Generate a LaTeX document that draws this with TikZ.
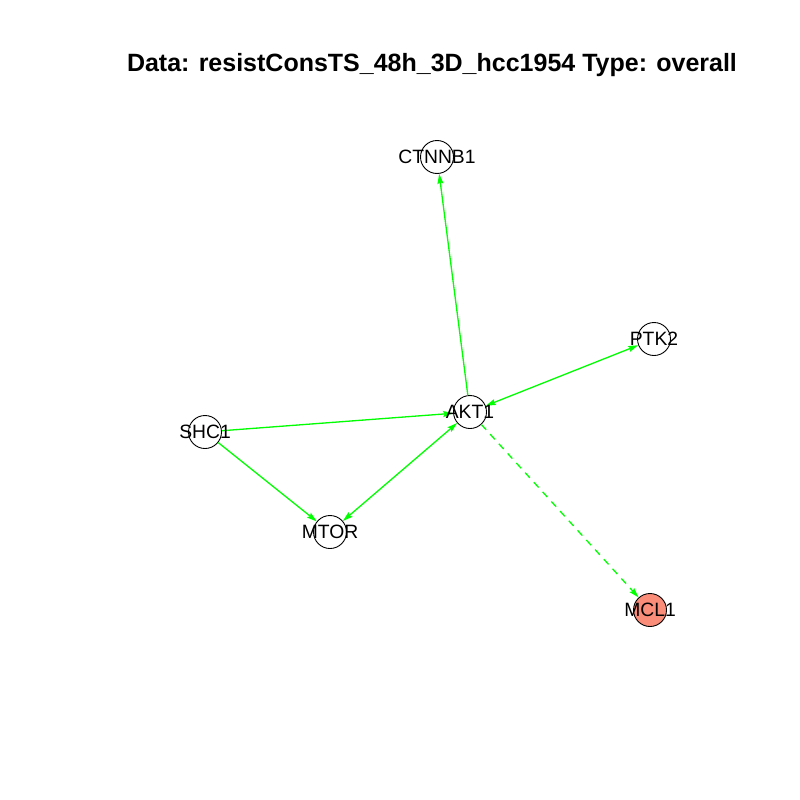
\documentclass[tikz,border=0pt]{standalone}
\usepackage{fontspec}
\setmainfont{Liberation Sans}
\usetikzlibrary{arrows.meta}
\definecolor{edgegreen}{RGB}{0,255,0}
\definecolor{salmon}{RGB}{250,140,122}
\tikzset{
  vtx/.style={circle,draw=black,line width=0.9pt,fill=white,minimum size=33pt,inner sep=0pt},
  vlabel/.style={font=\fontsize{19.3}{19.3}\selectfont,inner sep=0pt},
  edge/.style={draw=edgegreen,line width=1.3pt,-{Stealth[length=10pt,width=6pt,inset=1.5pt]}},
  biedge/.style={draw=edgegreen,line width=1.3pt,{Stealth[length=10pt,width=6pt,inset=1.5pt]}-{Stealth[length=10pt,width=6pt,inset=1.5pt]}},
}
\begin{document}
\begin{tikzpicture}[x=1pt,y=-1pt]
\useasboundingbox (0,0) rectangle (800,800);
\node[font=\bfseries\fontsize{25}{25}\selectfont,anchor=base,inner sep=0pt] (title) at (432,71.5) {Data: resistConsTS\_48h\_3D\_hcc1954 Type: overall};
\node[vtx] (CTNNB1) at (437,157) {};
\node[vtx] (PTK2) at (654,339) {};
\node[vtx] (AKT1) at (470,412) {};
\node[vtx] (SHC1) at (205,432) {};
\node[vtx] (MTOR) at (330,532) {};
\node[vtx,fill=salmon] (MCL1) at (650,610) {};
\draw[edge] (AKT1) -- (CTNNB1);
\draw[biedge] (AKT1) -- (PTK2);
\draw[edge] (SHC1) -- (AKT1);
\draw[edge] (SHC1) -- (MTOR);
\draw[biedge] (AKT1) -- (MTOR);
\draw[edge,dash pattern=on 7pt off 6pt] (AKT1) -- (MCL1);
\foreach \n in {CTNNB1,PTK2,AKT1,SHC1,MTOR,MCL1}{
  \node[vlabel] at (\n) {\n};
}
\end{tikzpicture}
\end{document}
